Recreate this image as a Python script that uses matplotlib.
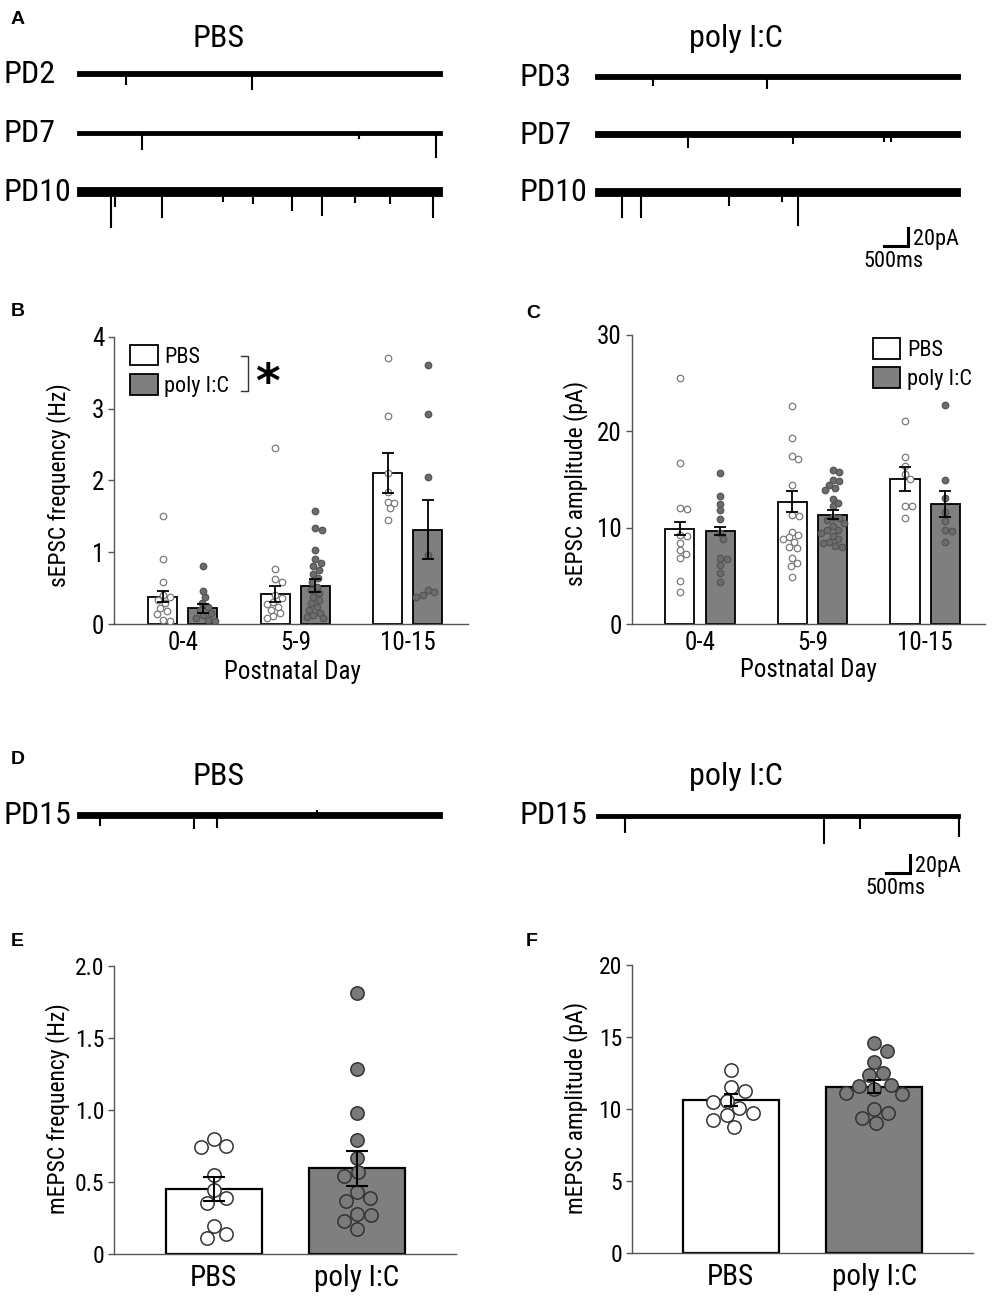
import numpy as np
import matplotlib
matplotlib.use("Agg")
import matplotlib.pyplot as plt
import matplotlib.font_manager as fm
from matplotlib.patches import Patch

# ---------------- data ----------------
TRACE_T = 7.6          # s, trace length
# spontaneous events: (time s, amplitude pA); noise peak-to-peak pA
ev_pbs_pd2 = [(1.01, 13), (3.64, 19)]
ev_pbs_pd7 = [(1.35, 19), (5.87, 7), (7.47, 28)]
ev_pbs_pd10 = [(0.70, 40), (0.79, 17), (1.78, 29), (3.04, 11), (3.66, 14),
               (4.48, 21), (5.10, 27), (5.79, 13), (6.52, 14), (7.41, 29)]
ev_poly_pd3 = [(1.21, 10), (3.59, 14)]
ev_poly_pd7 = [(1.93, 16), (4.13, 11), (6.02, 9), (6.17, 9)]
ev_poly_pd10 = [(0.57, 29), (0.96, 29), (2.80, 16), (3.90, 11), (4.23, 38)]
ev_pbs_pd15 = [(0.47, 12), (2.44, 16), (2.92, 14), (5.0, -6)]
ev_poly_pd15 = [(0.61, 19), (4.75, 31), (5.51, 14), (7.58, 23)]
noise_pbs = [5.0, 5.0, 10.0]
noise_poly = [6.0, 6.0, 8.5]
noise_pd15 = [6.0, 5.0]

age_groups = ["0-4", "5-9", "10-15"]
# sEPSC frequency (Hz)
freq_pbs = [[1.51, 0.91, 0.58, 0.40, 0.37, 0.33, 0.29, 0.22, 0.18, 0.14, 0.06, 0.04],
            [2.45, 0.76, 0.62, 0.58, 0.40, 0.36, 0.31, 0.28, 0.24, 0.20, 0.15, 0.11, 0.09],
            [3.71, 2.89, 2.10, 1.84, 1.70, 1.68, 1.61, 1.45]]
freq_poly = [[0.81, 0.46, 0.37, 0.29, 0.24, 0.20, 0.16, 0.12, 0.09, 0.06, 0.04],
             [1.58, 1.34, 1.31, 1.03, 0.90, 0.85, 0.81, 0.75, 0.70, 0.64, 0.59, 0.52,
              0.47, 0.43, 0.38, 0.33, 0.29, 0.24, 0.20, 0.16, 0.13, 0.10, 0.08],
             [3.61, 2.93, 2.05, 0.96, 0.47, 0.44, 0.40, 0.38]]
freq_mean_pbs = [0.38, 0.42, 2.10]
freq_sem_pbs = [0.08, 0.11, 0.28]
freq_mean_poly = [0.22, 0.53, 1.31]
freq_sem_poly = [0.06, 0.09, 0.41]
# sEPSC amplitude (pA)
amp_pbs = [[25.5, 16.7, 12.0, 11.9, 9.2, 9.1, 8.4, 7.7, 7.3, 6.9, 4.5, 3.3],
           [22.6, 19.3, 17.4, 17.1, 14.4, 11.3, 11.2, 9.6, 9.2, 9.0, 8.8, 8.5, 8.0,
            7.9, 6.8, 6.3, 6.0, 4.9],
           [21.1, 17.3, 16.4, 15.6, 15.1, 12.25, 12.2, 11.0]]
amp_poly = [[15.7, 13.3, 12.5, 11.8, 10.9, 9.4, 8.8, 6.9, 6.7, 6.1, 5.3, 4.4],
            [16.0, 15.8, 15.0, 14.8, 14.4, 14.1, 13.9, 13.0, 12.6, 12.2, 11.1, 11.0,
             10.8, 10.5, 10.2, 9.8, 9.75, 9.4, 9.1, 8.8, 8.5, 8.4, 8.1, 8.0],
            [22.7, 14.95, 13.05, 11.6, 10.7, 9.75, 9.7, 8.5]]
amp_mean_pbs = [9.9, 12.7, 15.05]
amp_sem_pbs = [0.7, 1.1, 1.2]
amp_mean_poly = [9.65, 11.35, 12.45]
amp_sem_poly = [0.4, 0.45, 1.35]

conditions = ["PBS", "poly I:C"]
# mEPSC frequency (Hz)
mfreq_pbs = [0.80, 0.75, 0.745, 0.548, 0.444, 0.39, 0.356, 0.194, 0.136, 0.109]
mfreq_poly = [1.81, 1.28, 0.98, 0.79, 0.668, 0.571, 0.541, 0.432, 0.386, 0.368,
              0.275, 0.27, 0.231, 0.171]
mfreq_mean = [0.45, 0.595]
mfreq_sem = [0.085, 0.12]
# mEPSC amplitude (pA)
mamp_pbs = [12.72, 11.52, 11.28, 10.59, 10.52, 10.06, 9.76, 9.6, 9.25, 8.74]
mamp_poly = [14.57, 14.06, 13.3, 12.49, 12.37, 11.68, 11.61, 11.38, 11.15, 11.05,
             9.99, 9.76, 9.41, 9.02]
mamp_mean = [10.65, 11.57]
mamp_sem = [0.4, 0.45]

# ---------------- font selection ----------------
ttf = fm.fontManager.ttflist
names = {f.name for f in ttf}
FS = 1.0
STRETCH = "normal"
if "Liberation Sans Narrow" in names:
    FAM = "Liberation Sans Narrow"
elif "Roboto Condensed" in names:
    FAM = "Roboto Condensed"
elif any(f.name == "DejaVu Sans" and str(f.stretch) in ("condensed", "semi-condensed")
         for f in ttf):
    FAM = "DejaVu Sans"
    STRETCH = "condensed"
    FS = 0.92
elif any(f.name == "Noto Sans" and str(f.stretch) in ("condensed", "semi-condensed")
         for f in ttf):
    FAM = "Noto Sans"
    STRETCH = "condensed"
    FS = 0.95
else:
    FAM = "Liberation Sans"
    FS = 0.86
plt.rcParams["font.family"] = [FAM, "DejaVu Sans"]
plt.rcParams["font.stretch"] = STRETCH


def fz(v):
    return v * FS


GRAY = "#7f7f7f"
AXC = "#555555"

W, H = 994, 1300
fig = plt.figure(figsize=(W / 100, H / 100), dpi=100)


def pxax(l, t, r, b):
    return fig.add_axes([l / W, 1 - b / H, (r - l) / W, (b - t) / H])


def ftext(x, y, s, **kw):
    fig.text(x / W, 1 - y / H, s, **kw)


# ---------------- traces ----------------
PA_PER_PX = 20 / 18.0


def trace(l, r, base_y, events, noise, half_px=40):
    ax = pxax(l, base_y - half_px, r, base_y + half_px)
    ax.set_xlim(0, TRACE_T)
    ax.set_ylim(-half_px * PA_PER_PX, half_px * PA_PER_PX)
    ax.axis("off")
    ax.fill_between([0, TRACE_T], -noise / 2, noise / 2, color="black", lw=0.6)
    ts = [e[0] for e in events]
    amps = [-e[1] for e in events]
    ax.vlines(ts, 0, amps, color="black", lw=1.5, clip_on=False)
    return ax


def scalebar(ax, x_right, y_bottom):
    ax.plot([x_right - 0.5, x_right, x_right], [y_bottom, y_bottom, y_bottom + 20],
            color="black", lw=2.2, solid_joinstyle="miter", clip_on=False)
    ax.text(x_right + 0.12, y_bottom + 6.5, "20pA", fontsize=fz(16), va="center",
            ha="left", clip_on=False)
    ax.text(x_right - 0.92, y_bottom - 18, "500ms", fontsize=fz(16), va="center",
            ha="left", clip_on=False)


rowsA_pbs = [73.3, 133, 191.7]
rowsA_poly = [76.7, 134, 191.7]
for y, ev, nz, lab in zip(rowsA_pbs, [ev_pbs_pd2, ev_pbs_pd7, ev_pbs_pd10], noise_pbs,
                          ["PD2", "PD7", "PD10"]):
    trace(77, 442, y, ev, nz)
    ftext(3, y + 1, lab, fontsize=fz(23), va="center", ha="left")
last = None
for y, ev, nz, lab in zip(rowsA_poly, [ev_poly_pd3, ev_poly_pd7, ev_poly_pd10], noise_poly,
                          ["PD3", "PD7", "PD10"]):
    last = trace(595, 960, y, ev, nz)
    ftext(519, y + 1, lab, fontsize=fz(23), va="center", ha="left")
scalebar(last, 6.51, -60)
ftext(219, 47, "PBS", fontsize=fz(23), ha="center", va="baseline")
ftext(736, 47, "poly I:C", fontsize=fz(23), ha="center", va="baseline")

trace(77, 442, 815, ev_pbs_pd15, noise_pd15[0])
lastD = trace(596, 960, 816, ev_poly_pd15, noise_pd15[1])
scalebar(lastD, 6.55, -63)
ftext(3, 816, "PD15", fontsize=fz(23), va="center", ha="left")
ftext(519, 816, "PD15", fontsize=fz(23), va="center", ha="left")
ftext(219, 785, "PBS", fontsize=fz(23), ha="center", va="baseline")
ftext(736, 785, "poly I:C", fontsize=fz(23), ha="center", va="baseline")

# panel letters
for (x, y, s) in [(11, 20, "A"), (11, 312, "B"), (526, 314, "C"), (11, 760, "D"),
                  (11, 942, "E"), (526, 942, "F")]:
    fig.text(x / W, 1 - y / H, s, fontsize=14, fontweight="bold",
             family=["Liberation Sans", "DejaVu Sans"], fontstretch="normal",
             va="center", ha="left")


# ---------------- helpers for bar panels ----------------
def swarm(ax, center, values, diam_px, **kw):
    trans = ax.transData
    cx = trans.transform((center, 0))[0]
    ys = np.array([trans.transform((center, v))[1] for v in values])
    order = np.argsort(-ys)
    cands = np.arange(-12 * diam_px, 12 * diam_px + 0.01, diam_px / 10.0)
    cands = sorted(cands, key=lambda o: (round(abs(o), 4), -o))
    placed = []
    offs = np.zeros(len(values))
    for i in order:
        y = ys[i]
        for o in cands:
            if all((o - px) ** 2 + (y - py) ** 2 >= diam_px ** 2 for px, py in placed):
                break
        placed.append((o, y))
        offs[i] = o
    inv = trans.inverted()
    xd = [inv.transform((cx + o, y))[0] for o, y in zip(offs, ys)]
    ax.scatter(xd, values, **kw)


def style_axes(ax):
    for s in ["top", "right"]:
        ax.spines[s].set_visible(False)
    for s in ["left", "bottom"]:
        ax.spines[s].set_color(AXC)
        ax.spines[s].set_linewidth(1.0)
    ax.tick_params(axis="y", direction="out", length=4, width=1, color=AXC, pad=3)
    ax.tick_params(axis="x", length=0)


def grouped_panel(ax, pts_pbs, pts_poly, m_pbs, s_pbs, m_poly, s_poly, ylim, yticks,
                  ylabel, xlim, lab_coords):
    x = np.arange(len(age_groups))
    off, bw = 0.178, 0.258
    ax.set_xlim(*xlim)
    ax.set_ylim(*ylim)
    ax.bar(x - off, m_pbs, width=bw, color="white", edgecolor="black", lw=1.3, zorder=2)
    ax.bar(x + off, m_poly, width=bw, color=GRAY, edgecolor="black", lw=1.3, zorder=2)
    for i in range(len(x)):
        swarm(ax, x[i] - off, pts_pbs[i], 6.6, s=22, facecolor="white",
              edgecolor="#7a7a7a", lw=0.9, zorder=3)
        swarm(ax, x[i] + off, pts_poly[i], 6.6, s=22, facecolor="#6c6c6c",
              edgecolor="#555555", lw=0.9, zorder=3)
    ax.errorbar(x - off, m_pbs, yerr=s_pbs, fmt="none", ecolor="black", elinewidth=1.3,
                capsize=4.3, capthick=1.3, zorder=5)
    ax.errorbar(x + off, m_poly, yerr=s_poly, fmt="none", ecolor="black", elinewidth=1.3,
                capsize=4.3, capthick=1.3, zorder=5)
    ax.set_xticks(x)
    ax.set_xticklabels(age_groups, fontsize=fz(18))
    ax.tick_params(axis="x", pad=5)
    ax.set_yticks(yticks)
    ax.set_yticklabels([str(t) for t in yticks], fontsize=fz(18))
    ax.set_ylabel(ylabel, fontsize=fz(17), va="center")
    ax.yaxis.set_label_coords(*lab_coords[0])
    ax.set_xlabel("Postnatal Day", fontsize=fz(18), va="top")
    ax.xaxis.set_label_coords(*lab_coords[1])
    style_axes(ax)


def legend(ax, anchor):
    handles = [Patch(facecolor="white", edgecolor="black", lw=1.3, label="PBS"),
               Patch(facecolor=GRAY, edgecolor="black", lw=1.3, label="poly I:C")]
    ax.legend(handles=handles, loc="upper left", bbox_to_anchor=anchor, frameon=False,
              fontsize=fz(16), handlelength=1.25 / FS, handleheight=1.05 / FS,
              handletextpad=0.3, labelspacing=0.3 / FS, borderpad=0, borderaxespad=0)


# ---------------- B ----------------
axB = pxax(114, 336.7, 468, 624)
grouped_panel(axB, freq_pbs, freq_poly, freq_mean_pbs, freq_sem_pbs, freq_mean_poly,
              freq_sem_poly, (0, 4), [0, 1, 2, 3, 4], "sEPSC frequency (Hz)",
              (-0.614, 2.538), [(-0.158, 0.483), (0.503, -0.125)])
legend(axB, (0.045, 0.972))
axB.plot([0.359, 0.3785, 0.3785, 0.359], [0.9328, 0.9328, 0.811, 0.811],
         transform=axB.transAxes, color="#333333", lw=1.0, clip_on=False)
axB.text(0.432, 0.835, "*", transform=axB.transAxes, fontsize=34, fontweight="bold",
         family=["DejaVu Sans"], fontstretch="normal", ha="center", va="center")

# ---------------- C ----------------
axC = pxax(631.7, 335, 985, 624)
grouped_panel(axC, amp_pbs, amp_poly, amp_mean_pbs, amp_sem_pbs, amp_mean_poly,
              amp_sem_poly, (0, 30), [0, 10, 20, 30], "sEPSC amplitude (pA)",
              (-0.607, 2.533), [(-0.160, 0.486), (0.499, -0.118)])
legend(axC, (0.682, 0.99))


# ---------------- E / F ----------------
def two_bar_panel(ax, pts, means, sems, ylim, yticks, yticklabels, ylabel, xlim,
                  lab_coords, capsize):
    x = np.arange(2)
    ax.set_xlim(*xlim)
    ax.set_ylim(*ylim)
    ax.bar(x, means, width=0.67, color=["white", GRAY], edgecolor="black", lw=1.6,
           zorder=2)
    swarm(ax, x[0], pts[0], 14.0, s=92, facecolor="white", edgecolor="#333333",
          lw=1.1, zorder=3)
    swarm(ax, x[1], pts[1], 14.0, s=92, facecolor="#7a7a7a", edgecolor="#333333",
          lw=1.1, zorder=3)
    ax.errorbar(x, means, yerr=sems, fmt="none", ecolor="black", elinewidth=1.5,
                capsize=capsize, capthick=1.5, zorder=5)
    ax.set_xticks(x)
    ax.set_xticklabels(conditions, fontsize=fz(21))
    ax.tick_params(axis="x", pad=7)
    ax.set_yticks(yticks)
    ax.set_yticklabels(yticklabels, fontsize=fz(17))
    ax.set_ylabel(ylabel, fontsize=fz(17), va="center")
    ax.yaxis.set_label_coords(*lab_coords)
    style_axes(ax)


axE = pxax(114, 965.7, 456, 1254)
two_bar_panel(axE, [mfreq_pbs, mfreq_poly], mfreq_mean, mfreq_sem, (0, 2.0),
              [0, 0.5, 1.0, 1.5, 2.0], ["0", "0.5", "1.0", "1.5", "2.0"],
              "mEPSC frequency (Hz)", (-0.696, 1.691), (-0.165, 0.503), 8)

axF = pxax(631.7, 965, 973, 1253.3)
two_bar_panel(axF, [mamp_pbs, mamp_poly], mamp_mean, mamp_sem, (0, 20),
              [0, 5, 10, 15, 20], ["0", "5", "10", "15", "20"],
              "mEPSC amplitude (pA)", (-0.69, 1.688), (-0.166, 0.504), 5)

fig.savefig("out.png", dpi=100)
